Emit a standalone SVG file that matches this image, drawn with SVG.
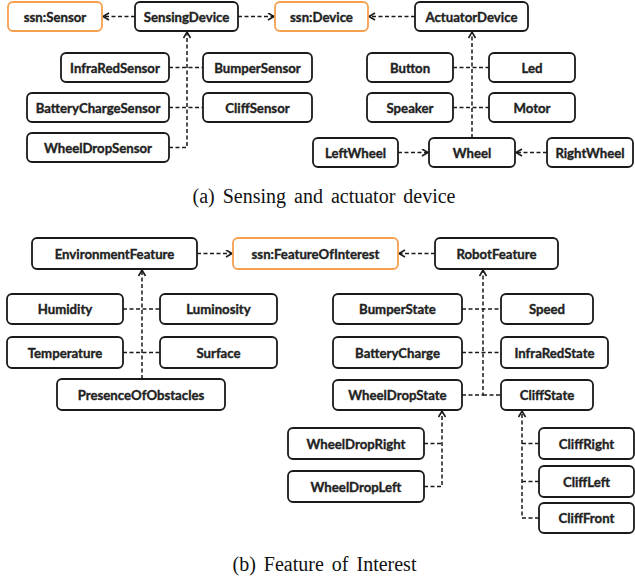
<svg xmlns="http://www.w3.org/2000/svg" width="635" height="577" viewBox="0 0 635 577">
<defs>
<marker id="arr" markerUnits="userSpaceOnUse" markerWidth="10" markerHeight="10" refX="7" refY="4" orient="auto">
<path d="M1,0.5 L7,4 L1,7.5" fill="none" stroke="#1a1a1a" stroke-width="1.6"/>
</marker>
<style>
.n rect{fill:#fff;stroke:#1a1a1a;stroke-width:1.8}
.o rect{stroke:#f5a04e}
.n text{font-family:Lato,"Open Sans",sans-serif;font-weight:bold;font-size:13.2px;fill:#222;stroke:#222;stroke-width:0.35;text-anchor:middle;dominant-baseline:central}
.c path{fill:none;stroke:#1a1a1a;stroke-width:1.5;stroke-dasharray:4 2.5}
.a{marker-end:url(#arr)}
.cap{font-family:"Liberation Serif",serif;font-size:20px;fill:#111;text-anchor:middle;word-spacing:3px}
</style>
</defs>
<rect width="635" height="577" fill="#fff"/>
<g class="c">
<path class="a" d="M135,16.5 H103"/>
<path class="a" d="M238,16.5 H274"/>
<path class="a" d="M415,16.5 H369"/>
<path class="a" d="M169,147.5 H187 V32"/>
<path d="M169,67.5 H203 M169,107.5 H203"/>
<path class="a" d="M472,138 V32"/>
<path d="M453,67.5 H489 M453,107.5 H489"/>
<path class="a" d="M398,152.5 H428"/>
<path class="a" d="M547,152.5 H516"/>
<path class="a" d="M197,253.5 H232"/>
<path class="a" d="M435,253.5 H399"/>
<path class="a" d="M142,379 V270"/>
<path d="M123,309 H160 M123,352.5 H160"/>
<path class="a" d="M462,395 H483 V270"/>
<path d="M483,395 H501 M462,309 H501 M462,352.5 H501"/>
<path class="a" d="M424,486.5 H442 V411"/>
<path d="M424,443.5 H442"/>
<path class="a" d="M539,518 H522 V411"/>
<path d="M522,443.5 H539 M522,481.5 H539"/>
</g>
<g id="ssnSensor" class="n o"><rect x="8" y="2" width="94" height="29" rx="5"/><text x="55" y="16.5">ssn:Sensor</text></g>
<g id="SensingDevice" class="n"><rect x="135" y="2" width="103" height="29" rx="5"/><text x="186.5" y="16.5">SensingDevice</text></g>
<g id="ssnDevice" class="n o"><rect x="275" y="2" width="93" height="29" rx="5"/><text x="321.5" y="16.5">ssn:Device</text></g>
<g id="ActuatorDevice" class="n"><rect x="415" y="2" width="113" height="29" rx="5"/><text x="471.5" y="16.5">ActuatorDevice</text></g>
<g id="InfraRedSensor" class="n"><rect x="61" y="53" width="108" height="29" rx="5"/><text x="115" y="67.5">InfraRedSensor</text></g>
<g id="BumperSensor" class="n"><rect x="203" y="53" width="109" height="29" rx="5"/><text x="257.5" y="67.5">BumperSensor</text></g>
<g id="BatteryChargeSensor" class="n"><rect x="27" y="93" width="142" height="29" rx="5"/><text x="98" y="107.5">BatteryChargeSensor</text></g>
<g id="CliffSensor" class="n"><rect x="203" y="93" width="109" height="29" rx="5"/><text x="257.5" y="107.5">CliffSensor</text></g>
<g id="WheelDropSensor" class="n"><rect x="27" y="133" width="142" height="29" rx="5"/><text x="98" y="147.5">WheelDropSensor</text></g>
<g id="Button" class="n"><rect x="367" y="53" width="86" height="29" rx="5"/><text x="410" y="67.5">Button</text></g>
<g id="Led" class="n"><rect x="489" y="53" width="86" height="29" rx="5"/><text x="532" y="67.5">Led</text></g>
<g id="Speaker" class="n"><rect x="367" y="93" width="86" height="29" rx="5"/><text x="410" y="107.5">Speaker</text></g>
<g id="Motor" class="n"><rect x="489" y="93" width="86" height="29" rx="5"/><text x="532" y="107.5">Motor</text></g>
<g id="LeftWheel" class="n"><rect x="313" y="138" width="85" height="29" rx="5"/><text x="355.5" y="152.5">LeftWheel</text></g>
<g id="Wheel" class="n"><rect x="429" y="138" width="86" height="29" rx="5"/><text x="472" y="152.5">Wheel</text></g>
<g id="RightWheel" class="n"><rect x="547" y="138" width="86" height="29" rx="5"/><text x="590" y="152.5">RightWheel</text></g>
<text class="cap" x="324" y="203">(a) Sensing and actuator device</text>
<g id="EnvironmentFeature" class="n"><rect x="32" y="238" width="165" height="31" rx="5"/><text x="114.5" y="253.5">EnvironmentFeature</text></g>
<g id="ssnFeatureOfInterest" class="n o"><rect x="233" y="238" width="165" height="31" rx="5"/><text x="315.5" y="253.5">ssn:FeatureOfInterest</text></g>
<g id="RobotFeature" class="n"><rect x="435" y="238" width="123" height="31" rx="5"/><text x="496.5" y="253.5">RobotFeature</text></g>
<g id="Humidity" class="n"><rect x="7" y="294" width="116" height="30" rx="5"/><text x="65" y="309">Humidity</text></g>
<g id="Luminosity" class="n"><rect x="160" y="294" width="117" height="30" rx="5"/><text x="218.5" y="309">Luminosity</text></g>
<g id="Temperature" class="n"><rect x="7" y="337" width="116" height="31" rx="5"/><text x="65" y="352.5">Temperature</text></g>
<g id="Surface" class="n"><rect x="160" y="337" width="117" height="31" rx="5"/><text x="218.5" y="352.5">Surface</text></g>
<g id="PresenceOfObstacles" class="n"><rect x="57" y="379" width="168" height="31" rx="5"/><text x="141" y="394.5">PresenceOfObstacles</text></g>
<g id="BumperState" class="n"><rect x="333" y="294" width="129" height="30" rx="5"/><text x="397.5" y="309">BumperState</text></g>
<g id="Speed" class="n"><rect x="501" y="294" width="92" height="30" rx="5"/><text x="547" y="309">Speed</text></g>
<g id="BatteryCharge" class="n"><rect x="333" y="337" width="129" height="31" rx="5"/><text x="397.5" y="352.5">BatteryCharge</text></g>
<g id="InfraRedState" class="n"><rect x="501" y="337" width="107" height="31" rx="5"/><text x="554.5" y="352.5">InfraRedState</text></g>
<g id="WheelDropState" class="n"><rect x="333" y="380" width="129" height="30" rx="5"/><text x="397.5" y="395">WheelDropState</text></g>
<g id="CliffState" class="n"><rect x="501" y="380" width="92" height="30" rx="5"/><text x="547" y="395">CliffState</text></g>
<g id="WheelDropRight" class="n"><rect x="288" y="428" width="136" height="31" rx="5"/><text x="356" y="443.5">WheelDropRight</text></g>
<g id="WheelDropLeft" class="n"><rect x="288" y="471" width="136" height="31" rx="5"/><text x="356" y="486.5">WheelDropLeft</text></g>
<g id="CliffRight" class="n"><rect x="539" y="428" width="95" height="31" rx="5"/><text x="586.5" y="443.5">CliffRight</text></g>
<g id="CliffLeft" class="n"><rect x="539" y="466" width="95" height="31" rx="5"/><text x="586.5" y="481.5">CliffLeft</text></g>
<g id="CliffFront" class="n"><rect x="539" y="503" width="95" height="30" rx="5"/><text x="586.5" y="518">CliffFront</text></g>
<text class="cap" x="324.5" y="571">(b) Feature of Interest</text>
</svg>
